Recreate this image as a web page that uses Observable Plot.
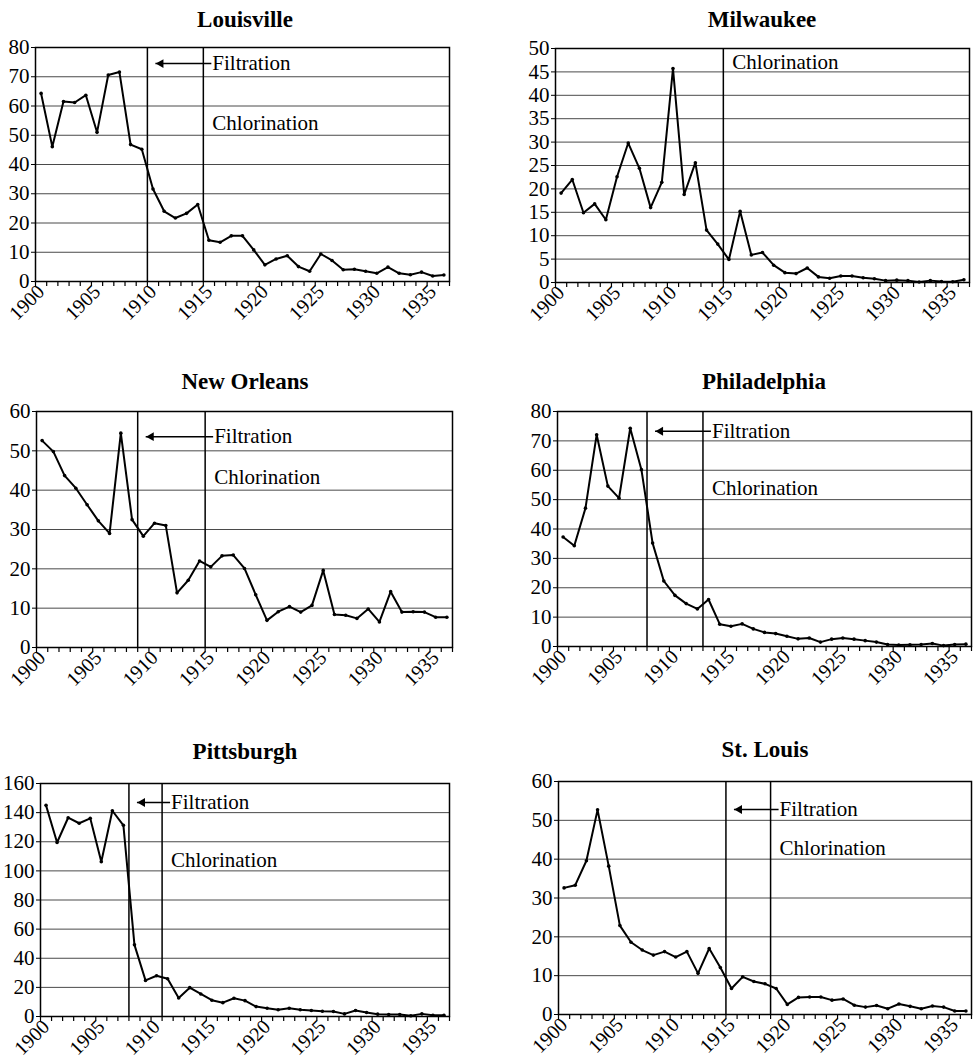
<!DOCTYPE html>
<html><head><meta charset="utf-8">
<script src="https://cdn.jsdelivr.net/npm/d3@7"></script>
<script src="https://cdn.jsdelivr.net/npm/@observablehq/plot@0.6"></script>
<style>
html,body{margin:0;padding:0;background:#fff;}
body{width:974px;height:1061px;position:relative;overflow:hidden;font-family:"Liberation Serif","DejaVu Serif",serif;color:#000;}
.title{position:absolute;font-family:"Liberation Serif","DejaVu Serif",serif;font-weight:bold;font-size:23px;transform:translate(-50%,-50%);white-space:nowrap;}
</style></head><body>
<script>
// ---- data ----
const years = d3.range(1900, 1937);
const yearLabels = [1900, 1905, 1910, 1915, 1920, 1925, 1930, 1935];

const louisville = [64.3,46.1,61.5,61.2,63.7,51.0,70.6,71.6,46.8,45.2,
  31.6,24.0,21.7,23.3,26.3,14.1,13.4,15.6,15.6,10.8,
  5.7,7.7,8.8,5.1,3.5,9.4,7.2,4.0,4.2,3.5,
  2.8,4.9,2.8,2.3,3.2,1.9,2.2];
const milwaukee = [19.1,22.0,14.9,16.8,13.4,22.6,29.8,24.4,16.0,21.4,
  45.7,18.8,25.6,11.2,8.2,4.9,15.2,5.9,6.4,3.7,
  2.1,1.9,3.1,1.2,0.9,1.4,1.4,1.0,0.8,0.4,
  0.5,0.4,0.1,0.4,0.2,0.15,0.6];
const newOrleans = [52.6,49.8,43.7,40.5,36.3,32.2,29.0,54.5,32.5,28.3,
  31.6,31.0,13.9,17.1,22.0,20.5,23.3,23.5,20.1,13.4,
  6.9,9.1,10.4,9.0,10.7,19.6,8.4,8.2,7.4,9.8,
  6.5,14.2,9.0,9.1,9.0,7.7,7.7];
const philadelphia = [37.3,34.3,47.1,72.1,54.6,50.5,74.3,60.2,35.2,22.3,
  17.4,14.6,12.8,16.0,7.6,6.9,7.7,6.0,4.8,4.4,
  3.5,2.6,2.9,1.5,2.5,2.9,2.5,2.0,1.5,0.7,
  0.5,0.6,0.7,1.0,0.3,0.7,0.8];
const pittsburgh = [145.0,119.5,136.5,132.7,136.1,106.3,141.3,131.3,49.2,24.8,
  28.0,25.9,12.7,19.8,15.5,11.2,9.5,12.5,10.9,6.8,
  5.7,4.6,5.7,4.6,4.1,3.6,3.4,1.8,4.1,2.7,
  1.6,1.4,1.4,0.5,1.8,0.9,0.9];
const stLouis = [32.6,33.3,39.6,52.7,38.2,22.9,18.6,16.6,15.3,16.2,
  14.8,16.2,10.6,17.0,12.1,6.7,9.7,8.5,7.9,6.7,
  2.6,4.4,4.5,4.5,3.7,4.0,2.4,1.9,2.3,1.5,
  2.7,2.1,1.5,2.2,1.9,0.9,0.9];

const cityNames = ["Louisville","Milwaukee","New Orleans","Philadelphia","Pittsburgh","St. Louis"];
const seriesList = [louisville, milwaukee, newOrleans, philadelphia, pittsburgh, stLouis];
const yMax = [80, 50, 60, 80, 160, 60];
const yStep = [10, 5, 10, 10, 20, 10];
const filtrationYear = [1909.5, null, 1908.5, 1907.5, 1907.5, 1914.5];
const chlorinationYear = [1914.5, 1914.5, 1914.5, 1912.5, 1910.5, 1918.5];
const filtrationLabelY = [74.5, null, 53.6, 73.3, 147, 52.8];
const chlorinationLabelY = [54, 47, 43.3, 53.7, 107.6, 42.7];

// ---- layout (pixels) ----
const layout = [
  {left:35,  right:449, top:47,  bottom:281,  tx:245, ty:20},
  {left:555, right:969, top:48,  bottom:282,  tx:762, ty:20},
  {left:36,  right:452, top:411, bottom:647,  tx:245, ty:382},
  {left:557, right:971, top:411, bottom:646,  tx:764, ty:382},
  {left:40,  right:449, top:783, bottom:1016, tx:245, ty:752},
  {left:558, right:971, top:781, bottom:1014, tx:765, ty:750}
];

const bounds = d3.range(1899.5, 1937, 1);
const fam = "'Liberation Serif','DejaVu Serif',serif";

cityNames.forEach((name, i) => {
  const L = layout[i];
  const mL = Math.min(44, L.left), mR = Math.min(8, 974 - L.right), mT = 10, mB = Math.min(44, 1061 - L.bottom);
  const w = L.right - L.left, h = L.bottom - L.top;
  const data = years.map((y, k) => ({year: y, value: seriesList[i][k]}));
  const events = [filtrationYear[i], chlorinationYear[i]].filter(d => d != null);
  const marks = [
    Plot.gridY(d3.range(0, yMax[i] + 1, yStep[i]), {stroke: "#4a4a4a", strokeOpacity: 1, strokeWidth: 1}),
    Plot.axisY(d3.range(0, yMax[i] + 1, yStep[i]), {tickSize: 4, tickPadding: 2, fontSize: 21, fontFamily: fam, label: null, tickFormat: d3.format("d")}),
    Plot.axisX(bounds, {tickSize: 5, tickFormat: () => "", label: null, strokeWidth: 1.2}),
    Plot.axisX(yearLabels, {tickSize: 0, tickRotate: -45, tickPadding: 7, fontSize: 20, fontFamily: fam, label: null, tickFormat: d3.format("d")}),
    Plot.ruleX(events, {stroke: "#000", strokeWidth: 1.5}),
    Plot.frame({stroke: "#000", strokeWidth: 1.5}),
    Plot.line(data, {x: "year", y: "value", stroke: "#000", strokeWidth: 2}),
    Plot.dot(data, {x: "year", y: "value", r: 1.8, fill: "#000"}),
    Plot.text([{x: chlorinationYear[i], y: chlorinationLabelY[i], t: "Chlorination"}],
      {x: "x", y: "y", text: "t", textAnchor: "start", dx: 9, fontSize: 21, fontFamily: fam, fill: "#000"})
  ];
  if (filtrationYear[i] != null) {
    const ann = [{x1: chlorinationYear[i], x2: filtrationYear[i], y: filtrationLabelY[i], t: "Filtration"}];
    marks.push(
      Plot.text(ann, {x: "x1", y: "y", text: "t", textAnchor: "start", dx: 9, fontSize: 21, fontFamily: fam, fill: "#000"}),
      Plot.link(ann, {x1: "x1", x2: "x2", y1: "y", y2: "y", dx: 8, stroke: "#000", strokeWidth: 1.5}),
      Plot.dot(ann, {x: "x2", y: "y", symbol: "triangle", rotate: -90, r: 3.3, dx: 13.5, fill: "#000", stroke: "none"})
    );
  }
  const svg = Plot.plot({
    width: w + mL + mR, height: h + mT + mB,
    marginLeft: mL, marginRight: mR, marginTop: mT, marginBottom: mB,
    style: "font-family:" + fam + ";font-size:21px;background:transparent;overflow:visible;color:#000;position:absolute;left:" + (L.left - mL) + "px;top:" + (L.top - mT) + "px;max-width:none;",
    x: {domain: [1899.5, 1936.5], label: null},
    y: {domain: [0, yMax[i]], label: null},
    marks
  });
  document.body.appendChild(svg);

  const t = document.createElement("div");
  t.className = "title";
  t.textContent = name;
  t.style.left = L.tx + "px";
  t.style.top = L.ty + "px";
  document.body.appendChild(t);
});
</script>
</body></html>
